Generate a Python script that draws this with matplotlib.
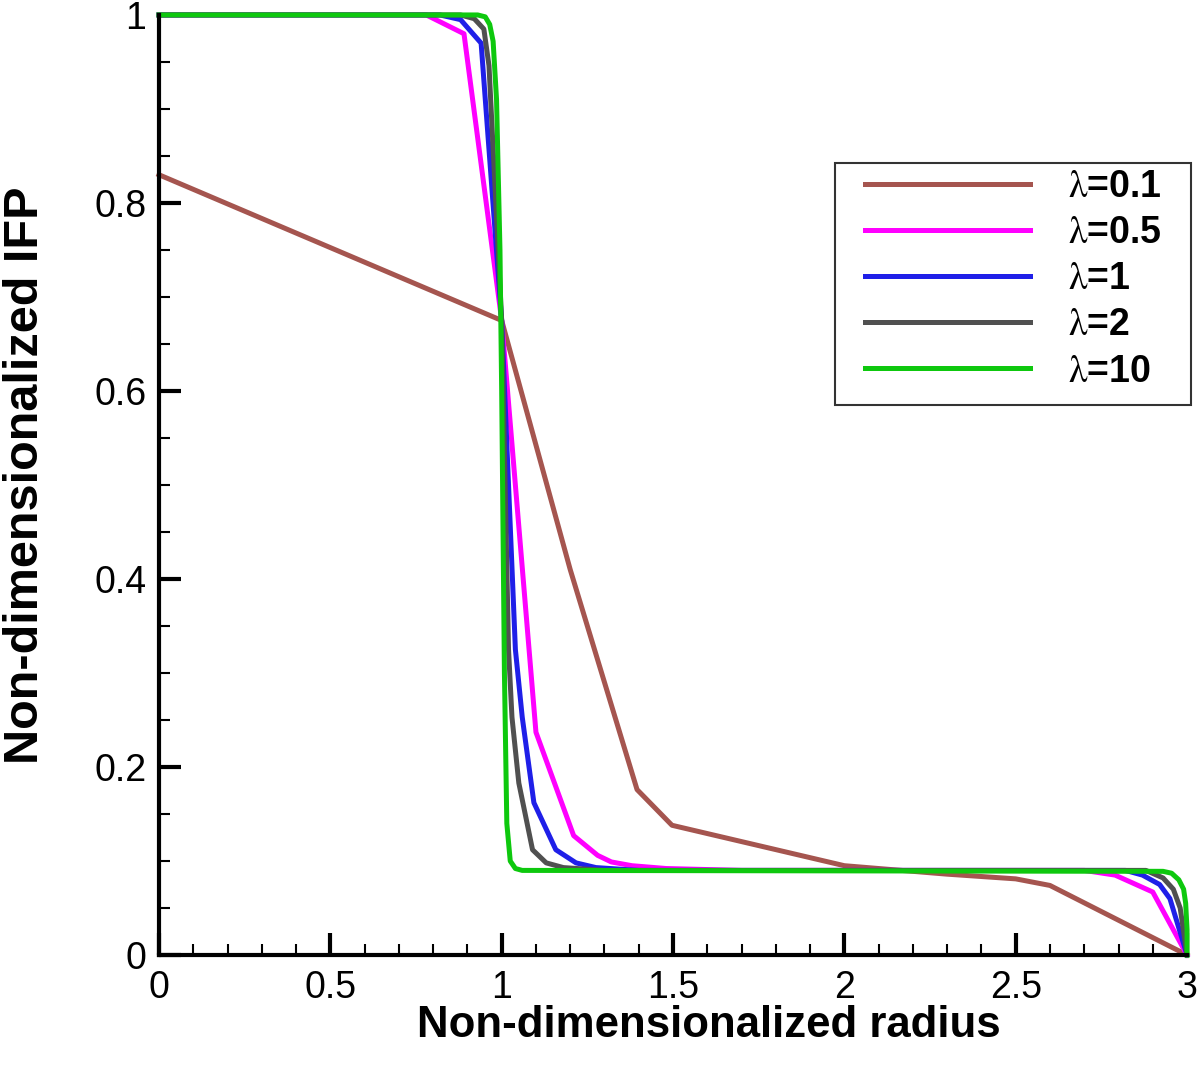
import matplotlib

matplotlib.use("Agg")
import matplotlib.pyplot as plt
from matplotlib.patches import Rectangle
from matplotlib.ticker import FuncFormatter, MultipleLocator

plt.rcParams["font.family"] = ["Liberation Sans", "DejaVu Sans"]
plt.rcParams["mathtext.fontset"] = "stix"

# curves (x = non-dim radius, y = non-dim IFP)
x_l01 = [0.0, 1.0, 1.2, 1.395, 1.497, 2.0, 2.3, 2.5, 2.6, 3.0]
y_l01 = [0.83, 0.675, 0.41, 0.176, 0.138, 0.095, 0.086, 0.081, 0.074, 0.0]

x_l05 = [0.0, 0.78, 0.89, 1.0, 1.1, 1.21, 1.28, 1.32, 1.38, 1.48, 1.7,
         2.7, 2.79, 2.9, 3.0]
y_l05 = [1.0, 1.0, 0.98, 0.675, 0.237, 0.127, 0.106, 0.099, 0.095, 0.092, 0.09,
         0.09, 0.085, 0.067, 0.0]

x_l1 = [0.0, 0.82, 0.88, 0.94, 1.0, 1.04, 1.06, 1.094, 1.158, 1.217, 1.275, 1.4,
        2.82, 2.87, 2.92, 2.95, 3.0]
y_l1 = [1.0, 1.0, 0.995, 0.97, 0.675, 0.325, 0.253, 0.162, 0.112, 0.098, 0.093, 0.09,
        0.09, 0.085, 0.075, 0.06, 0.0]

x_l2 = [0.0, 0.88, 0.92, 0.948, 0.963, 1.0, 1.02, 1.03, 1.05, 1.09, 1.13, 1.18, 1.3,
        2.88, 2.93, 2.96, 2.98, 3.0]
y_l2 = [1.0, 1.0, 0.996, 0.985, 0.946, 0.675, 0.325, 0.253, 0.183, 0.112, 0.098, 0.093, 0.09,
        0.09, 0.082, 0.07, 0.05, 0.0]

x_l10 = [0.0, 0.93, 0.952, 0.965, 0.975, 0.985, 0.995, 1.0, 1.008, 1.015, 1.025, 1.04, 1.06,
         2.93, 2.955, 2.976, 2.99, 2.996, 3.0, 3.0]
y_l10 = [1.0, 1.0, 0.998, 0.99, 0.972, 0.91, 0.75, 0.6, 0.3, 0.14, 0.1, 0.092, 0.09,
         0.089, 0.087, 0.08, 0.07, 0.055, 0.027, 0.0]

labels = [r"$\mathrm{\lambda}$=0.1", r"$\mathrm{\lambda}$=0.5", r"$\mathrm{\lambda}$=1",
          r"$\mathrm{\lambda}$=2", r"$\mathrm{\lambda}$=10"]
colors = ["#a5554f", "#ff00ff", "#1f1fe8", "#505050", "#0ec80e"]

fig = plt.figure(figsize=(12, 10.68), dpi=100)
ax = fig.add_axes([0.1325, 0.1058, 0.8567, 0.8802])

series = [(x_l01, y_l01), (x_l05, y_l05), (x_l1, y_l1), (x_l2, y_l2), (x_l10, y_l10)]
for (xs, ys), lab, col in zip(series, labels, colors):
    ax.plot(xs, ys, color=col, lw=3.6, label=lab, clip_on=False, solid_joinstyle="round")

ax.set_xlim(0, 3)
ax.set_ylim(0, 1)
ax.xaxis.set_major_locator(MultipleLocator(0.5))
ax.xaxis.set_minor_locator(MultipleLocator(0.1))
ax.yaxis.set_major_locator(MultipleLocator(0.2))
ax.yaxis.set_minor_locator(MultipleLocator(0.05))
ax.xaxis.set_major_formatter(FuncFormatter(lambda v, p: f"{v:g}"))
ax.yaxis.set_major_formatter(FuncFormatter(lambda v, p: f"{v:g}"))

for side in ["top", "right"]:
    ax.spines[side].set_visible(False)
for side in ["left", "bottom"]:
    ax.spines[side].set_linewidth(3)

ax.tick_params(which="major", direction="in", length=16, width=3, labelsize=27)
ax.tick_params(axis="x", which="major", pad=11)
ax.tick_params(axis="y", which="major", pad=9)
ax.tick_params(which="minor", direction="in", length=8, width=1.5)

ax.set_xlabel("Non-dimensionalized radius", fontsize=31.5, fontweight="bold")
ax.set_ylabel("Non-dimensionalized IFP", fontsize=35, fontweight="bold")
ax.xaxis.set_label_coords(0.535, -0.053)
ax.yaxis.set_label_coords(-0.108, 0.51)

box = Rectangle((0.658, 0.585), 0.346, 0.258, transform=ax.transAxes, fill=False,
                edgecolor="#333333", lw=1.5, clip_on=False, zorder=3)
ax.add_patch(box)
ax.legend(loc="upper left", bbox_to_anchor=(0.687, 0.836), frameon=False,
          prop={"size": 27, "weight": "bold"}, handlelength=4.4, handletextpad=1.0,
          labelspacing=0.27, borderaxespad=0, borderpad=0)

fig.savefig("out.png", dpi=100)
